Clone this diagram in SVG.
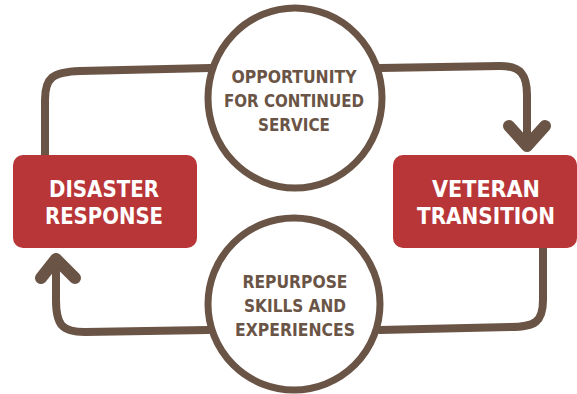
<svg xmlns="http://www.w3.org/2000/svg" width="577" height="394" viewBox="0 0 577 394">
<style>
.conn{fill:none;stroke:#6a5446;stroke-width:8;stroke-linecap:round;stroke-linejoin:round}
.head{fill:none;stroke:#6a5446;stroke-width:12;stroke-linecap:round;stroke-linejoin:round}
.ring{fill:#fff;stroke:#6a5446;stroke-width:7}
.box{fill:#b83637}
.ct{font-family:"DejaVu Sans Condensed","DejaVu Sans",sans-serif;font-weight:bold;font-size:18px;fill:#6a5446;text-anchor:middle}
.bt{font-family:"DejaVu Sans Condensed","DejaVu Sans",sans-serif;font-weight:bold;font-size:23px;fill:#fff;text-anchor:middle}
</style>
<rect width="577" height="394" fill="#fff"/>
<g id="connectors">
<path class="conn" d="M45,156 L45,100 C45,78 52,72 80,71 L210,68"/>
<path class="conn" d="M380,68 L500,66 C521,66 527,75 527,95 L527,146"/>
<path class="head" d="M509,126 L527,146 L545,126"/>
<path class="conn" d="M543,247 L543,300 C543,322 535,327 510,327 L380,330"/>
<path class="conn" d="M208,330 L85,332 C62,332 56,325 56,300 L56,262"/>
<path class="head" d="M41,278 L56,259 L75,278"/>
</g>
<g id="opportunity">
<ellipse class="ring" cx="295" cy="98" rx="87" ry="90"/>
<text class="ct" x="294" y="83" textLength="125" lengthAdjust="spacingAndGlyphs">OPPORTUNITY</text>
<text class="ct" x="294" y="107" textLength="140" lengthAdjust="spacingAndGlyphs">FOR CONTINUED</text>
<text class="ct" x="294" y="131" textLength="72" lengthAdjust="spacingAndGlyphs">SERVICE</text>
</g>
<g id="repurpose">
<ellipse class="ring" cx="294" cy="304" rx="86" ry="86"/>
<text class="ct" x="295" y="288" textLength="105" lengthAdjust="spacingAndGlyphs">REPURPOSE</text>
<text class="ct" x="295" y="312" textLength="102" lengthAdjust="spacingAndGlyphs">SKILLS AND</text>
<text class="ct" x="295" y="336" textLength="120" lengthAdjust="spacingAndGlyphs">EXPERIENCES</text>
</g>
<g id="disaster">
<rect class="box" x="13" y="155" width="184" height="93" rx="10"/>
<text class="bt" x="104" y="197" textLength="110" lengthAdjust="spacingAndGlyphs">DISASTER</text>
<text class="bt" x="104" y="224" textLength="118" lengthAdjust="spacingAndGlyphs">RESPONSE</text>
</g>
<g id="veteran">
<rect class="box" x="393" y="155" width="184" height="93" rx="10"/>
<text class="bt" x="486" y="197" textLength="108" lengthAdjust="spacingAndGlyphs">VETERAN</text>
<text class="bt" x="486" y="224" textLength="138" lengthAdjust="spacingAndGlyphs">TRANSITION</text>
</g>
</svg>
